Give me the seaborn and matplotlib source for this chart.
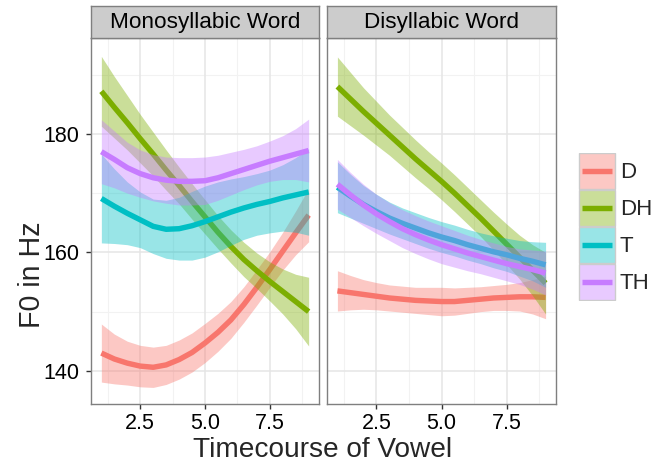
import matplotlib
matplotlib.use("Agg")
import matplotlib.pyplot as plt
import numpy as np
import pandas as pd
import seaborn as sns
from matplotlib.patches import Rectangle
from matplotlib.colors import to_rgba

# ---------------- data ----------------
timecourse = [1.0, 1.5, 2.0, 2.5, 3.0, 3.5, 4.0, 4.5, 5.0,
              5.5, 6.0, 6.5, 7.0, 7.5, 8.0, 8.5, 9.0]
groups = ["D", "DH", "T", "TH"]
facets = ["Monosyllabic Word", "Disyllabic Word"]
colors = ["#F8766D", "#7CAE00", "#00BFC4", "#C77CFF"]

# Monosyllabic Word: smoothed F0 and confidence half-width
mono_D = [143.0, 142.0, 141.3, 140.8, 140.6, 141.0, 141.9, 143.1, 144.7,
          146.5, 148.6, 151.2, 154.1, 157.1, 160.2, 163.3, 166.3]
mono_D_ci = [4.9, 4.2, 3.7, 3.5, 3.4, 3.3, 3.3, 3.3, 3.3,
             3.2, 3.1, 3.0, 3.0, 3.0, 3.2, 3.7, 4.5]
mono_DH = [187.2, 184.5, 181.9, 179.2, 176.6, 173.9, 171.3, 168.6, 166.0,
           163.4, 161.0, 158.8, 156.9, 155.1, 153.4, 151.7, 150.0]
mono_DH_ci = [5.9, 5.2, 4.6, 4.1, 3.7, 3.4, 3.1, 3.0, 2.9,
              2.8, 2.8, 2.9, 3.0, 3.3, 3.8, 4.6, 5.8]
mono_T = [169.1, 167.8, 166.6, 165.5, 164.4, 163.9, 164.0, 164.5, 165.2,
          166.0, 166.8, 167.5, 168.1, 168.6, 169.2, 169.7, 170.2]
mono_T_ci = [7.5, 6.3, 5.3, 4.7, 4.6, 4.9, 5.3, 5.8, 6.0,
             5.9, 5.6, 5.3, 5.2, 5.3, 5.6, 6.3, 7.3]
mono_TH = [177.0, 175.7, 174.3, 173.3, 172.6, 172.2, 172.0, 172.0, 172.1,
           172.6, 173.3, 174.0, 174.7, 175.4, 176.0, 176.6, 177.2]
mono_TH_ci = [5.4, 4.8, 4.3, 4.0, 3.9, 3.9, 4.0, 4.0, 4.0,
              3.8, 3.6, 3.4, 3.3, 3.4, 3.7, 4.3, 5.3]

# Disyllabic Word
di_D = [153.5, 153.2, 152.9, 152.6, 152.3, 152.1, 151.9, 151.8, 151.7,
        151.7, 151.9, 152.1, 152.3, 152.4, 152.5, 152.5, 152.4]
di_D_ci = [3.4, 2.9, 2.5, 2.3, 2.2, 2.2, 2.2, 2.3, 2.4,
           2.3, 2.2, 2.1, 2.1, 2.2, 2.4, 2.9, 3.6]
di_DH = [188.0, 185.9, 183.8, 181.8, 179.8, 177.8, 175.8, 173.9, 172.0,
         170.0, 167.9, 165.8, 163.6, 161.4, 159.2, 157.0, 154.8]
di_DH_ci = [5.0, 4.5, 4.0, 3.7, 3.4, 3.3, 3.2, 3.1, 3.1,
            3.1, 3.1, 3.1, 3.2, 3.4, 3.7, 4.3, 5.2]
di_T = [171.0, 169.5, 168.1, 166.9, 165.8, 164.9, 164.1, 163.3, 162.6,
        162.0, 161.3, 160.7, 160.1, 159.6, 159.0, 158.5, 157.9]
di_T_ci = [4.3, 3.7, 3.2, 2.9, 2.7, 2.6, 2.6, 2.6, 2.6,
           2.6, 2.6, 2.6, 2.7, 2.8, 3.0, 3.3, 3.8]
di_TH = [171.5, 169.7, 168.0, 166.5, 165.2, 164.0, 163.0, 162.1, 161.3,
         160.6, 159.9, 159.3, 158.7, 158.1, 157.6, 157.1, 156.5]
di_TH_ci = [4.2, 3.8, 3.5, 3.3, 3.2, 3.2, 3.2, 3.2, 3.2,
            3.1, 3.0, 2.9, 2.9, 2.9, 3.0, 3.3, 3.7]

x_ticks = [2.5, 5.0, 7.5]
x_tick_labels = ["2.5", "5.0", "7.5"]
y_ticks = [140, 160, 180]
y_tick_labels = ["140", "160", "180"]

series = {
    ("Monosyllabic Word", "D"): (mono_D, mono_D_ci),
    ("Monosyllabic Word", "DH"): (mono_DH, mono_DH_ci),
    ("Monosyllabic Word", "T"): (mono_T, mono_T_ci),
    ("Monosyllabic Word", "TH"): (mono_TH, mono_TH_ci),
    ("Disyllabic Word", "D"): (di_D, di_D_ci),
    ("Disyllabic Word", "DH"): (di_DH, di_DH_ci),
    ("Disyllabic Word", "T"): (di_T, di_T_ci),
    ("Disyllabic Word", "TH"): (di_TH, di_TH_ci),
}

rows = []
for (facet, grp), (vals, ci) in series.items():
    for xv, yv, cv in zip(timecourse, vals, ci):
        rows.append({"facet": facet, "group": grp, "time": xv,
                     "f0": yv, "lo": yv - cv, "hi": yv + cv})
df = pd.DataFrame(rows)

# ---------------- style ----------------
sns.set_theme(style="white")
plt.rcParams["font.family"] = ["Liberation Sans", "DejaVu Sans"]

W, H = 654, 461
fig = plt.figure(figsize=(W / 100, H / 100), dpi=100)


def fx(px):
    return px / W


def fy(py):
    return 1 - py / H


panel_top, panel_bot = 38, 404
strip_top = 6
panels_px = [(91, 319), (327, 556)]

border = "#7F7F7F"
for i, facet in enumerate(facets):
    x0, x1 = panels_px[i]
    ax = fig.add_axes([fx(x0), fy(panel_bot), fx(x1 - x0),
                       (panel_bot - panel_top) / H])
    ax.set_facecolor("white")
    ax.set_xlim(0.6, 9.4)
    ax.set_ylim(134.4, 196.2)
    # grid
    for v in [1.25, 3.75, 6.25, 8.75]:
        ax.axvline(v, color="#F2F2F2", lw=0.8, zorder=0)
    for v in [150, 170, 190]:
        ax.axhline(v, color="#F2F2F2", lw=0.8, zorder=0)
    for v in x_ticks:
        ax.axvline(v, color="#E5E5E5", lw=1.1, zorder=0.5)
    for v in y_ticks:
        ax.axhline(v, color="#E5E5E5", lw=1.1, zorder=0.5)

    sub_f = df[df["facet"] == facet]
    for j, grp in enumerate(groups):
        sub = sub_f[sub_f["group"] == grp]
        ax.fill_between(sub["time"], sub["lo"], sub["hi"], color=colors[j],
                        alpha=0.4, lw=0, zorder=2 + 2 * j)
        sns.lineplot(data=sub, x="time", y="f0", color=colors[j], lw=3.9,
                     ax=ax, errorbar=None, legend=False, zorder=3 + 2 * j,
                     solid_capstyle="butt")
    ax.set_xlabel("")
    ax.set_ylabel("")
    ax.set_xticks(x_ticks)
    ax.set_xticklabels(x_tick_labels)
    ax.set_yticks(y_ticks)
    ax.set_yticklabels(y_tick_labels)
    ax.tick_params(axis="both", which="both", direction="out", length=3.8,
                   width=1.0, color="#333333", labelsize=15.5,
                   labelcolor="black", pad=2.5)
    ax.tick_params(axis="y", pad=4.5)
    if i == 1:
        ax.tick_params(axis="y", length=0, labelleft=False)
    ax.tick_params(bottom=True, left=(i == 0))
    for s in ax.spines.values():
        s.set_color(border)
        s.set_linewidth(1.0)
        s.set_zorder(20)

    # strip
    sax = fig.add_axes([fx(x0), fy(panel_top), fx(x1 - x0),
                        (panel_top - strip_top) / H])
    sax.set_facecolor("#CCCCCC")
    sax.set_xticks([])
    sax.set_yticks([])
    for s in sax.spines.values():
        s.set_color(border)
        s.set_linewidth(1.0)
    sax.text(0.5, 0.47, facet, ha="center", va="center", fontsize=16.2,
             color="black", transform=sax.transAxes)

# axis titles
fig.text(fx(323), fy(456.5), "Timecourse of Vowel", ha="center",
         va="baseline", fontsize=20.2)
fig.text(fx(32), fy(221), "F0 in Hz", ha="right", va="center",
         rotation=90, fontsize=20.6, rotation_mode="anchor")

# legend
lx0, ly0, lw_, lh_ = 578, 153, 82, 148
lax = fig.add_axes([fx(lx0), fy(ly0 + lh_), fx(lw_), lh_ / H])
lax.set_xlim(0, lw_)
lax.set_ylim(lh_, 0)
lax.set_axis_off()
key_h = 37
for j, grp in enumerate(groups):
    top = j * key_h
    lax.add_patch(Rectangle((0.8, top + 0.5), 36.2, key_h - 1,
                            facecolor=to_rgba(colors[j], 0.4),
                            edgecolor="#CCCCCC", lw=1.0))
    lax.plot([4, 34], [top + key_h / 2, top + key_h / 2], color=colors[j],
             lw=3.9, solid_capstyle="butt")
    lax.text(42, top + key_h / 2 + 1, grp, ha="left", va="center",
             fontsize=16)

fig.savefig("out.png", dpi=100)
